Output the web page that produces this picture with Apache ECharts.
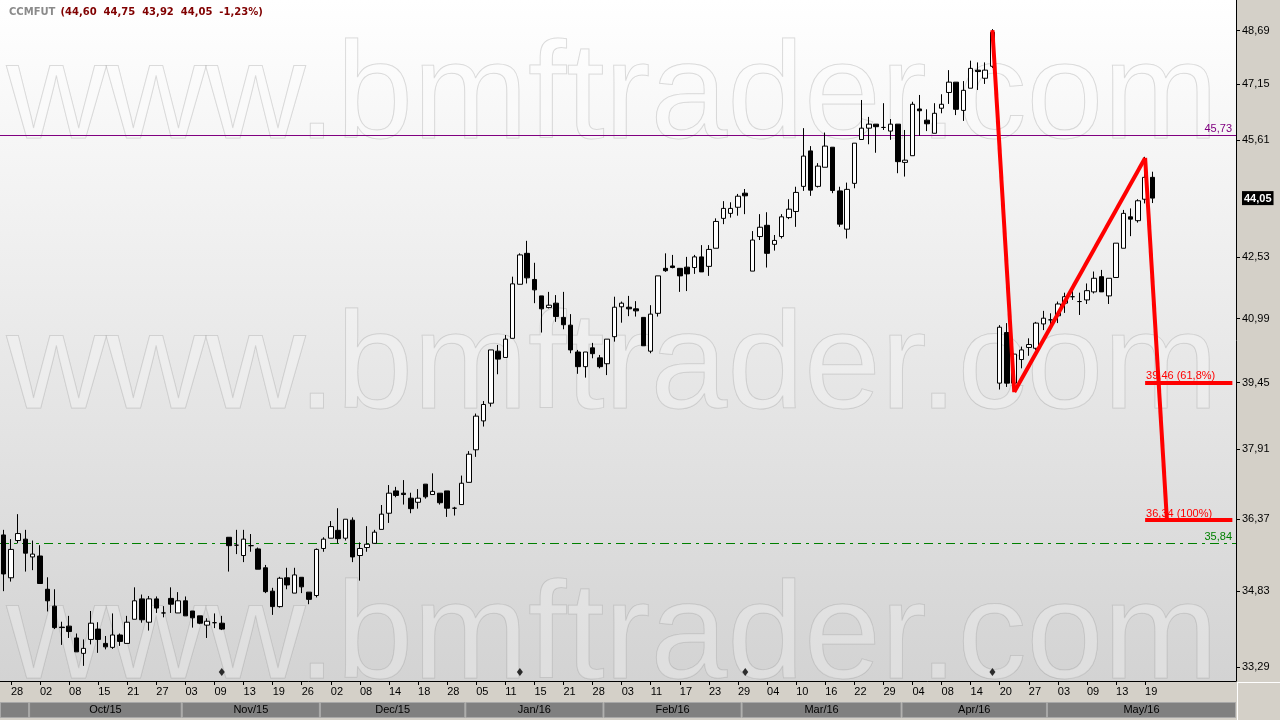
<!DOCTYPE html>
<html><head><meta charset="utf-8">
<script src="https://cdn.jsdelivr.net/npm/echarts@6/dist/echarts.min.js"></script>
<style>html,body{margin:0;padding:0;background:#d4d0c8;}#c{width:1280px;height:720px;}</style>
</head><body><div id="c"></div>
<script>
const dates = [
'2015-09-25','2015-09-28','2015-09-29','2015-09-30',
'2015-10-01','2015-10-02','2015-10-05','2015-10-06','2015-10-07','2015-10-08','2015-10-09','2015-10-13','2015-10-14','2015-10-15','2015-10-16','2015-10-19','2015-10-20','2015-10-21','2015-10-22','2015-10-23','2015-10-26','2015-10-27','2015-10-28','2015-10-29','2015-10-30',
'2015-11-03','2015-11-04','2015-11-05','2015-11-06','2015-11-09','2015-11-10','2015-11-11','2015-11-12','2015-11-13','2015-11-16','2015-11-17','2015-11-18','2015-11-19','2015-11-23','2015-11-24','2015-11-25','2015-11-26','2015-11-27','2015-11-30',
'2015-12-01','2015-12-02','2015-12-03','2015-12-04','2015-12-07','2015-12-08','2015-12-09','2015-12-10','2015-12-11','2015-12-14','2015-12-15','2015-12-16','2015-12-17','2015-12-18','2015-12-21','2015-12-22','2015-12-23','2015-12-28','2015-12-29','2015-12-30',
'2016-01-04','2016-01-05','2016-01-06','2016-01-07','2016-01-08','2016-01-11','2016-01-12','2016-01-13','2016-01-14','2016-01-15','2016-01-18','2016-01-19','2016-01-20','2016-01-21','2016-01-22','2016-01-26','2016-01-27','2016-01-28','2016-01-29',
'2016-02-01','2016-02-02','2016-02-03','2016-02-04','2016-02-05','2016-02-10','2016-02-11','2016-02-12','2016-02-15','2016-02-16','2016-02-17','2016-02-18','2016-02-19','2016-02-22','2016-02-23','2016-02-24','2016-02-25','2016-02-26','2016-02-29',
'2016-03-01','2016-03-02','2016-03-03','2016-03-04','2016-03-07','2016-03-08','2016-03-09','2016-03-10','2016-03-11','2016-03-14','2016-03-15','2016-03-16','2016-03-17','2016-03-18','2016-03-21','2016-03-22','2016-03-23','2016-03-24','2016-03-28','2016-03-29','2016-03-30','2016-03-31',
'2016-04-01','2016-04-04','2016-04-05','2016-04-06','2016-04-07','2016-04-08','2016-04-11','2016-04-12','2016-04-13','2016-04-14','2016-04-15','2016-04-18','2016-04-19','2016-04-20','2016-04-22','2016-04-25','2016-04-26','2016-04-27','2016-04-28','2016-04-29',
'2016-05-02','2016-05-03','2016-05-04','2016-05-05','2016-05-06','2016-05-09','2016-05-10','2016-05-11','2016-05-12','2016-05-13','2016-05-16','2016-05-17','2016-05-18','2016-05-19','2016-05-20'
];
const futureDates = ['2016-05-23','2016-05-24','2016-05-25','2016-05-27','2016-05-30','2016-05-31','2016-06-01','2016-06-02','2016-06-03','2016-06-06','2016-06-07'];

// [open, close, low, high]
const candles = [
[36.02,35.19,34.83,36.13],[35.11,35.71,35.03,35.93],[35.90,36.05,35.84,36.47],[35.93,35.63,35.24,36.13],
[35.55,35.61,35.27,35.90],[35.57,34.99,34.99,35.80],[34.87,34.63,34.41,35.12],[34.52,34.08,34.05,34.87],
[34.09,34.08,33.73,34.20],[34.11,34.00,33.87,34.32],[33.87,33.59,33.59,33.96],[33.56,33.66,33.31,33.84],
[33.84,34.17,33.74,34.42],[34.05,33.84,33.57,34.19],[33.76,33.69,33.64,33.91],[33.68,33.93,33.65,34.37],
[33.93,33.80,33.71,33.96],[33.76,34.19,33.76,34.32],[34.25,34.63,34.25,34.91],[34.67,34.24,34.18,34.76],
[34.19,34.67,34.02,34.73],[34.67,34.48,34.38,34.72],[34.38,34.38,34.29,34.52],[34.68,34.56,34.38,34.91],
[34.38,34.63,34.38,34.81],[34.63,34.32,34.32,34.72],[34.42,34.28,34.08,34.42],[34.32,34.17,34.15,34.32],
[34.13,34.21,33.87,34.27],[34.18,34.18,34.07,34.37],[34.17,34.05,34.03,34.32],[35.97,35.79,35.24,35.97],
[35.80,35.80,35.61,36.13],[35.58,35.93,35.44,36.13],[35.79,35.79,35.66,36.04],[35.72,35.29,35.29,35.75],
[35.32,34.82,34.79,35.38],[34.83,34.51,34.34,34.90],[34.51,35.10,34.49,35.13],[35.11,34.96,34.87,35.32],
[34.79,35.17,34.79,35.32],[35.12,34.92,34.79,35.12],[34.81,34.66,34.56,34.81],[34.74,35.71,34.70,35.73],
[35.73,35.93,35.66,35.97],[35.95,36.20,35.95,36.32],[36.12,35.94,35.84,36.60],[35.95,36.36,35.90,36.36],
[36.34,35.55,35.44,36.40],[35.58,35.73,35.05,35.86],[35.75,35.82,35.66,36.21],[35.84,36.08,35.84,36.13],
[36.14,36.47,36.14,36.67],[36.49,36.93,36.28,37.11],[36.98,36.88,36.84,37.07],[36.93,36.90,36.68,37.22],
[36.82,36.59,36.49,36.94],[36.73,36.82,36.59,37.02],[37.13,36.85,36.81,37.13],[36.90,36.97,36.90,37.37],
[36.93,36.72,36.68,36.93],[36.98,36.60,36.41,36.98],[36.60,36.60,36.44,36.63],[36.68,37.15,36.68,37.32],
[37.17,37.80,37.17,37.87],[37.90,38.67,37.74,38.73],[38.56,38.94,38.43,39.02],[38.97,40.23,38.89,40.23],
[40.20,40.01,39.65,40.35],[40.05,40.49,40.05,40.59],[40.51,41.85,40.51,42.03],[41.84,42.58,41.84,42.62],
[42.62,42.00,41.86,42.94],[41.96,41.70,41.37,42.38],[41.55,41.23,40.65,41.55],[41.26,41.32,41.24,41.65],
[41.37,41.04,40.91,41.57],[41.02,40.84,40.73,41.65],[40.83,40.23,40.15,41.10],[40.18,39.83,39.66,40.23],
[39.83,40.18,39.57,40.18],[40.28,40.14,40.03,40.40],[40.04,39.83,39.79,40.11],[39.90,40.49,39.63,40.49],
[40.55,41.27,40.43,41.53],[41.28,41.37,40.89,41.41],[41.27,41.23,41.05,41.55],[41.23,41.18,41.04,41.42],
[41.02,40.33,40.33,41.02],[40.20,41.10,40.15,41.32],[41.12,42.05,41.04,42.05],[42.24,42.18,42.15,42.62],
[42.30,42.26,42.24,42.58],[42.24,42.05,41.65,42.24],[42.27,42.10,41.67,42.53],[42.26,42.53,42.10,42.58],
[42.53,42.15,42.15,42.83],[42.29,42.72,42.05,42.83],[42.75,43.44,42.75,43.52],[43.52,43.78,43.37,43.97],
[43.65,43.78,43.54,43.94],[43.81,44.10,43.59,44.16],[44.18,44.11,43.63,44.29],[42.17,42.96,42.17,43.19],
[43.05,43.29,42.96,43.63],[43.34,42.62,42.26,43.68],[42.85,42.95,42.69,43.09],[43.05,43.56,43.00,43.63],
[43.54,43.76,43.50,44.02],[43.70,44.20,43.30,44.35],[44.36,45.17,44.24,45.93],[45.31,44.26,44.11,45.44],
[44.36,44.90,44.33,44.98],[44.87,45.44,44.87,45.81],[45.41,44.25,44.18,45.41],[44.24,43.37,43.30,44.35],
[43.24,44.28,43.00,44.46],[44.44,45.52,44.31,45.52],[45.62,45.93,45.62,46.71],[45.93,46.04,45.49,46.24],
[46.04,45.97,45.26,46.04],[45.95,45.95,45.88,46.62],[45.85,46.04,45.61,46.18],[46.04,45.02,44.71,46.04],
[45.00,45.06,44.62,45.88],[45.18,46.59,45.18,46.66],[46.46,46.41,45.72,46.85],[46.15,46.05,45.85,46.45],
[45.79,46.34,45.79,46.62],[46.48,46.59,46.34,46.87],[46.92,47.21,46.60,47.55],[47.21,46.45,46.29,47.21],
[46.42,46.98,46.13,47.24],[47.04,47.60,47.04,47.82],[47.55,47.51,46.99,47.77],[47.32,47.55,47.16,47.77],
[47.66,48.64,47.61,48.73],[39.44,40.78,39.29,40.83],[40.65,39.44,39.35,40.88],[39.44,40.13,39.23,40.15],
[40.00,40.23,39.79,40.31],[40.29,40.36,40.09,40.51],[40.27,40.88,40.23,40.91],[40.86,41.00,40.71,41.18],
[40.96,40.96,40.71,41.12],[41.06,41.35,40.88,41.41],[41.37,41.53,41.13,41.63],[41.53,41.53,41.45,41.68],
[41.41,41.41,41.08,41.63],[41.45,41.68,41.35,41.86],[41.65,41.99,41.61,42.16],[42.03,41.65,41.65,42.20],
[41.55,41.99,41.35,41.99],[42.01,42.88,42.01,42.88],[42.75,43.65,42.75,43.74],[43.56,43.50,43.06,43.78],
[43.46,43.98,43.41,44.02],[44.02,44.60,43.91,45.15],[44.60,44.05,43.92,44.75]
];

const tickDates = ['2015-09-28','2015-10-02','2015-10-08','2015-10-15','2015-10-21','2015-10-27','2015-11-03','2015-11-09','2015-11-13','2015-11-19','2015-11-26','2015-12-02','2015-12-08','2015-12-14','2015-12-18','2015-12-28','2016-01-05','2016-01-11','2016-01-15','2016-01-21','2016-01-28','2016-02-03','2016-02-11','2016-02-17','2016-02-23','2016-02-29','2016-03-04','2016-03-10','2016-03-16','2016-03-22','2016-03-29','2016-04-04','2016-04-08','2016-04-14','2016-04-20','2016-04-27','2016-05-03','2016-05-09','2016-05-13','2016-05-19'];
const yTickValues = [33.29,34.83,36.37,37.91,39.45,40.99,42.53,45.61,47.15,48.69];
const monthLabels = ['','Oct/15','Nov/15','Dec/15','Jan/16','Feb/16','Mar/16','Apr/16','May/16'];
const monthStarts = ['2015-09-25','2015-10-01','2015-11-03','2015-12-01','2016-01-04','2016-02-01','2016-03-01','2016-04-01','2016-05-02'];
const markerDates = ['2015-11-10','2016-01-13','2016-03-01','2016-04-19'];
const markerLevel = 33.19;
const levelValues = [45.73, 35.84];
const levelColors = ['#800080', '#008000'];
const levelDashes = [null, [9, 5, 3, 5]];
const swingDates = ['2016-04-19','2016-04-25','2016-05-19','2016-05-24'];
const swingValues = [48.70, 39.23, 45.12, 36.34];
const fibValues = [39.46, 36.34];
const fibLabels = ['39,46 (61,8%)', '36,34 (100%)'];
const fibStartDate = '2016-05-19';

const categories = dates.concat(futureDates);
const lastCat = categories[categories.length - 1];
const fmt = v => v.toFixed(2).replace('.', ',');
const last = candles[candles.length - 1];
const prevClose = candles[candles.length - 2][1];
const current = last[1];
const pct = ((last[1] - prevClose) / prevClose * 100).toFixed(2).replace('.', ',');
const tickSet = new Set(tickDates);
const FONT = 'Liberation Sans';

const monthData = monthStarts.map((d, i) => {
  const s = categories.indexOf(d);
  const e = i < monthStarts.length - 1 ? categories.indexOf(monthStarts[i + 1]) - 1 : categories.length - 1;
  return [s, 0.5, e];
});

const swingLines = [];
for (let i = 0; i < swingDates.length - 1; i++) {
  swingLines.push([{coord: [swingDates[i], swingValues[i]]}, {coord: [swingDates[i + 1], swingValues[i + 1]]}]);
}
const fibLines = fibValues.map((v, i) => [
  {coord: [fibStartDate, v], label: {show: true, position: 'insideStartTop', formatter: fibLabels[i], color: '#ff0000', fontSize: 11, fontFamily: FONT, distance: 1}},
  {coord: [lastCat, v]}
]);

const chart = echarts.init(document.getElementById('c'), null, {renderer: 'canvas'});
chart.setOption({
  animation: false,
  backgroundColor: '#d4d0c8',
  title: {
    left: 9, top: 3, padding: 0,
    text: `{a|CCMFUT} {b|(${fmt(last[0])}  ${fmt(last[3])}  ${fmt(last[2])}  ${fmt(last[1])}  ${pct}%)}`,
    textStyle: {rich: {
      a: {color: '#8a8a8a', fontSize: 10, fontFamily: 'DejaVu Sans'},
      b: {color: '#800000', fontSize: 10, fontFamily: 'DejaVu Sans', fontWeight: 'bold'}
    }}
  },
  graphic: [30, 300, 570].map(t => ({
    type: 'text', left: 6, top: t, z: 1, silent: true,
    style: {text: 'www.bmftrader.com', font: '138px "Liberation Sans"', fill: 'rgba(255,255,255,0.25)', stroke: 'rgba(140,140,140,0.33)', lineWidth: 1}
  })).concat([
    {type: 'line', z: 5, shape: {x1: 1237, y1: 682.5, x2: 1280, y2: 682.5}, style: {stroke: '#ffffff', lineWidth: 1}},
    {type: 'line', z: 5, shape: {x1: 1237.5, y1: 682, x2: 1237.5, y2: 720}, style: {stroke: '#ffffff', lineWidth: 1}}
  ]),
  grid: [
    {left: 0, right: 44, top: 0, bottom: 39, show: true, borderWidth: 0,
     backgroundColor: {type: 'linear', x: 0, y: 0, x2: 0, y2: 1, colorStops: [{offset: 0, color: '#ffffff'}, {offset: 1, color: '#d3d3d3'}]}},
    {left: 0, right: 44, top: 702, height: 16}
  ],
  xAxis: [
    {type: 'category', gridIndex: 0, data: categories, boundaryGap: true,
     axisLine: {show: true, lineStyle: {color: '#000', width: 1}},
     axisTick: {show: true, alignWithLabel: true, interval: (i, v) => tickSet.has(v), length: 4, lineStyle: {color: '#000'}},
     axisLabel: {interval: (i, v) => tickSet.has(v), formatter: v => v.slice(8), align: 'left', margin: 5, color: '#000', fontSize: 11, fontFamily: FONT},
     splitLine: {show: false}},
    {type: 'category', gridIndex: 1, data: categories, boundaryGap: true, show: false}
  ],
  yAxis: [
    {type: 'log', logBase: 10, gridIndex: 0, position: 'right', min: 33.01, max: 49.585,
     axisLine: {show: true, lineStyle: {color: '#000', width: 1}},
     axisTick: {show: true, length: 4, customValues: yTickValues, lineStyle: {color: '#000'}},
     axisLabel: {customValues: yTickValues.concat([current]), margin: 6, color: '#000', fontSize: 11, fontFamily: FONT,
       formatter: v => Math.abs(v - current) < 1e-6 ? `{cur|${fmt(v)}}` : fmt(v),
       rich: {cur: {backgroundColor: '#000', color: '#fff', fontWeight: 'bold', fontSize: 11, fontFamily: FONT, padding: [2, 2, 1, 2]}}},
     splitLine: {show: false}},
    {type: 'value', gridIndex: 1, min: 0, max: 1, show: false}
  ],
  series: [
    {type: 'custom', name: 'levels', xAxisIndex: 0, yAxisIndex: 0, z: 2, silent: true,
     data: levelValues.map(v => [0, v]),
     renderItem: (params, api) => {
       const cs = params.coordSys;
       const i = params.dataIndex;
       const y = Math.round(api.coord([api.value(0), api.value(1)])[1]) + 0.5;
       const color = levelColors[i];
       return {type: 'group', children: [
         {type: 'line', shape: {x1: cs.x, y1: y, x2: cs.x + cs.width, y2: y},
          style: {stroke: color, lineWidth: 1, lineDash: levelDashes[i] || null}},
         {type: 'text', style: {text: fmt(levelValues[i]), x: cs.x + cs.width - 4, y: y - 1,
          align: 'right', verticalAlign: 'bottom', fill: color, font: '11px "Liberation Sans"'}}
       ]};
     }},
    {type: 'candlestick', xAxisIndex: 0, yAxisIndex: 0, data: candles, barWidth: 5, z: 3,
     itemStyle: {color: '#ffffff', color0: '#000000', borderColor: '#000000', borderColor0: '#000000', borderWidth: 1}},
    {type: 'line', name: 'swing', xAxisIndex: 0, yAxisIndex: 0, data: [], z: 4, silent: true,
     itemStyle: {color: '#ff0000'}, lineStyle: {color: '#ff0000'},
     markLine: {symbol: ['none', 'none'], silent: true, animation: false,
       lineStyle: {color: '#ff0000', width: 4, type: 'solid', opacity: 1},
       label: {show: false}, emphasis: {disabled: true},
       data: swingLines.concat(fibLines)}},
    {type: 'scatter', xAxisIndex: 0, yAxisIndex: 0, data: markerDates.map(d => [d, markerLevel]),
     symbol: 'diamond', symbolSize: [6, 8], itemStyle: {color: '#000'}, z: 3, silent: true},
    {type: 'custom', xAxisIndex: 1, yAxisIndex: 1, data: monthData, silent: true,
     renderItem: (params, api) => {
       const bw = api.size([1, 0])[0];
       const s = api.coord([api.value(0), 0.5])[0] - bw / 2;
       const e = api.coord([api.value(2), 0.5])[0] + bw / 2;
       const cs = params.coordSys;
       const x0 = Math.max(cs.x, s), x1 = Math.min(cs.x + cs.width, e);
       return {type: 'group', children: [
         {type: 'rect', shape: {x: x0 + 0.5, y: cs.y + 0.5, width: x1 - x0 - 1, height: cs.height - 1},
          style: {fill: '#808080', stroke: '#a8a8a8', lineWidth: 1}},
         {type: 'text', style: {text: monthLabels[params.dataIndex], x: (x0 + x1) / 2, y: cs.y + cs.height / 2,
          align: 'center', verticalAlign: 'middle', fill: '#000', font: '11px "Liberation Sans"'}}
       ]};
     }}
  ]
});
</script></body></html>
